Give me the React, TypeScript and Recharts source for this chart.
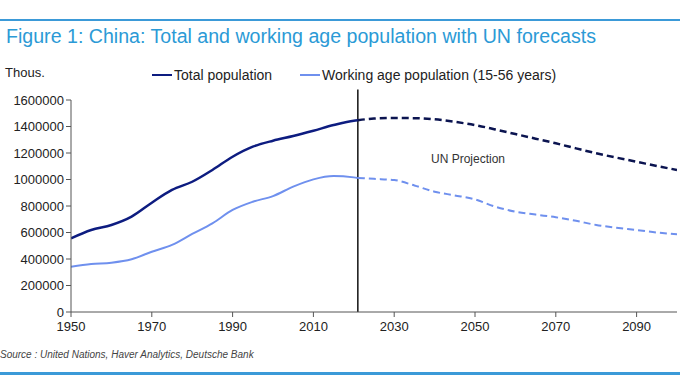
import { LineChart, Line, XAxis, YAxis, ReferenceLine } from "recharts"

const YEARS = [1950, 1955, 1960, 1965, 1970, 1975, 1980, 1985, 1990, 1995, 2000, 2005, 2010, 2015, 2020, 2021,
  2025, 2030, 2035, 2040, 2045, 2050, 2055, 2060, 2065, 2070, 2075, 2080, 2085, 2090, 2095, 2100]
const TOTAL = [556000, 619000, 657000, 720000, 825000, 921000, 983000, 1072000, 1172000, 1248000, 1293000, 1328000,
  1368000, 1411000, 1444000, 1447000, 1460000, 1464000, 1463000, 1454000, 1435000, 1411000, 1378000, 1343000,
  1308000, 1273000, 1235000, 1198000, 1165000, 1134000, 1102000, 1072000]
const WORKING = [342000, 362000, 372000, 398000, 455000, 506000, 589000, 669000, 770000, 832000, 875000, 946000,
  1001000, 1026000, 1016000, 1012000, 1005000, 996000, 955000, 908000, 880000, 850000, 795000, 757000,
  735000, 715000, 688000, 657000, 636000, 619000, 600000, 586000]
const SPLIT_YEAR = 2021
const X_TICKS = [1950, 1970, 1990, 2010, 2030, 2050, 2070, 2090]
const Y_TICKS = [0, 200000, 400000, 600000, 800000, 1000000, 1200000, 1400000, 1600000]

const rows = YEARS.map((year, i) => ({
  year,
  totalHist: year <= SPLIT_YEAR ? TOTAL[i] : null,
  totalProj: year >= SPLIT_YEAR ? TOTAL[i] : null,
  workHist: year <= SPLIT_YEAR ? WORKING[i] : null,
  workProj: year >= SPLIT_YEAR ? WORKING[i] : null,
}))

const FONT = "'Liberation Sans', Arial, sans-serif"
const tick = { fontSize: 13, fill: "#222", fontFamily: FONT }

export default function App() {
  return (
    <div style={{ position: "absolute", left: 0, top: 0, width: 680, height: 383, background: "#fff", fontFamily: FONT, overflow: "hidden" }}>
      <div style={{ position: "absolute", left: 0, top: 19, width: 680, height: 2, background: "#3b9ad8" }} />
      <div style={{ position: "absolute", left: 6, top: 25, fontSize: 19.6, color: "#2b9ad6", whiteSpace: "nowrap" }}>
        Figure 1: China: Total and working age population with UN forecasts
      </div>
      <div style={{ position: "absolute", left: 5, top: 65, fontSize: 13, color: "#222" }}>Thous.</div>
      <div style={{ position: "absolute", left: 152, top: 67, fontSize: 14, color: "#222", display: "flex", alignItems: "center", whiteSpace: "nowrap" }}>
        <span style={{ display: "inline-block", width: 20, height: 2, background: "#0d1c80", marginRight: 2 }} />
        <span>Total population</span>
        <span style={{ display: "inline-block", width: 20, height: 2, background: "#6f90ee", marginLeft: 28, marginRight: 2 }} />
        <span>Working age population (15-56 years)</span>
      </div>
      <div style={{ position: "absolute", left: 0, top: 0 }}>
        <LineChart width={680} height={383} data={rows} margin={{ top: 100, right: 3, bottom: 41, left: 8 }}>
          <XAxis
            dataKey="year"
            type="number"
            domain={[1950, 2100]}
            ticks={X_TICKS}
            tick={tick}
            stroke="#555"
            tickSize={5}
            tickMargin={5}
            height={30}
            allowDataOverflow
          />
          <YAxis
            type="number"
            domain={[0, 1600000]}
            ticks={Y_TICKS}
            tick={tick}
            stroke="#555"
            tickSize={5}
            width={63}
            interval={0}
          />
          <ReferenceLine
            segment={[{ x: SPLIT_YEAR, y: 0 }, { x: SPLIT_YEAR, y: 1680000 }]}
            stroke="#111"
            strokeWidth={1.5}
            ifOverflow="visible"
          />
          <Line type="monotone" dataKey="totalHist" stroke="#0d1c80" strokeWidth={2.5} dot={false} isAnimationActive={false} connectNulls={false} />
          <Line type="monotone" dataKey="totalProj" stroke="#0b1450" strokeWidth={2.5} strokeDasharray="7 4" dot={false} isAnimationActive={false} connectNulls={false} />
          <Line type="monotone" dataKey="workHist" stroke="#6f90ee" strokeWidth={2} dot={false} isAnimationActive={false} connectNulls={false} />
          <Line type="monotone" dataKey="workProj" stroke="#6f90ee" strokeWidth={2} strokeDasharray="7 4" dot={false} isAnimationActive={false} connectNulls={false} />
        </LineChart>
      </div>
      <div style={{ position: "absolute", left: 431, top: 152, fontSize: 12, color: "#333" }}>UN Projection</div>
      <div style={{ position: "absolute", left: 0, top: 349, fontSize: 10, fontStyle: "italic", color: "#444" }}>
        Source : United Nations, Haver Analytics, Deutsche Bank
      </div>
      <div style={{ position: "absolute", left: 0, top: 372, width: 680, height: 3, background: "#3b9ad8" }} />
    </div>
  )
}
